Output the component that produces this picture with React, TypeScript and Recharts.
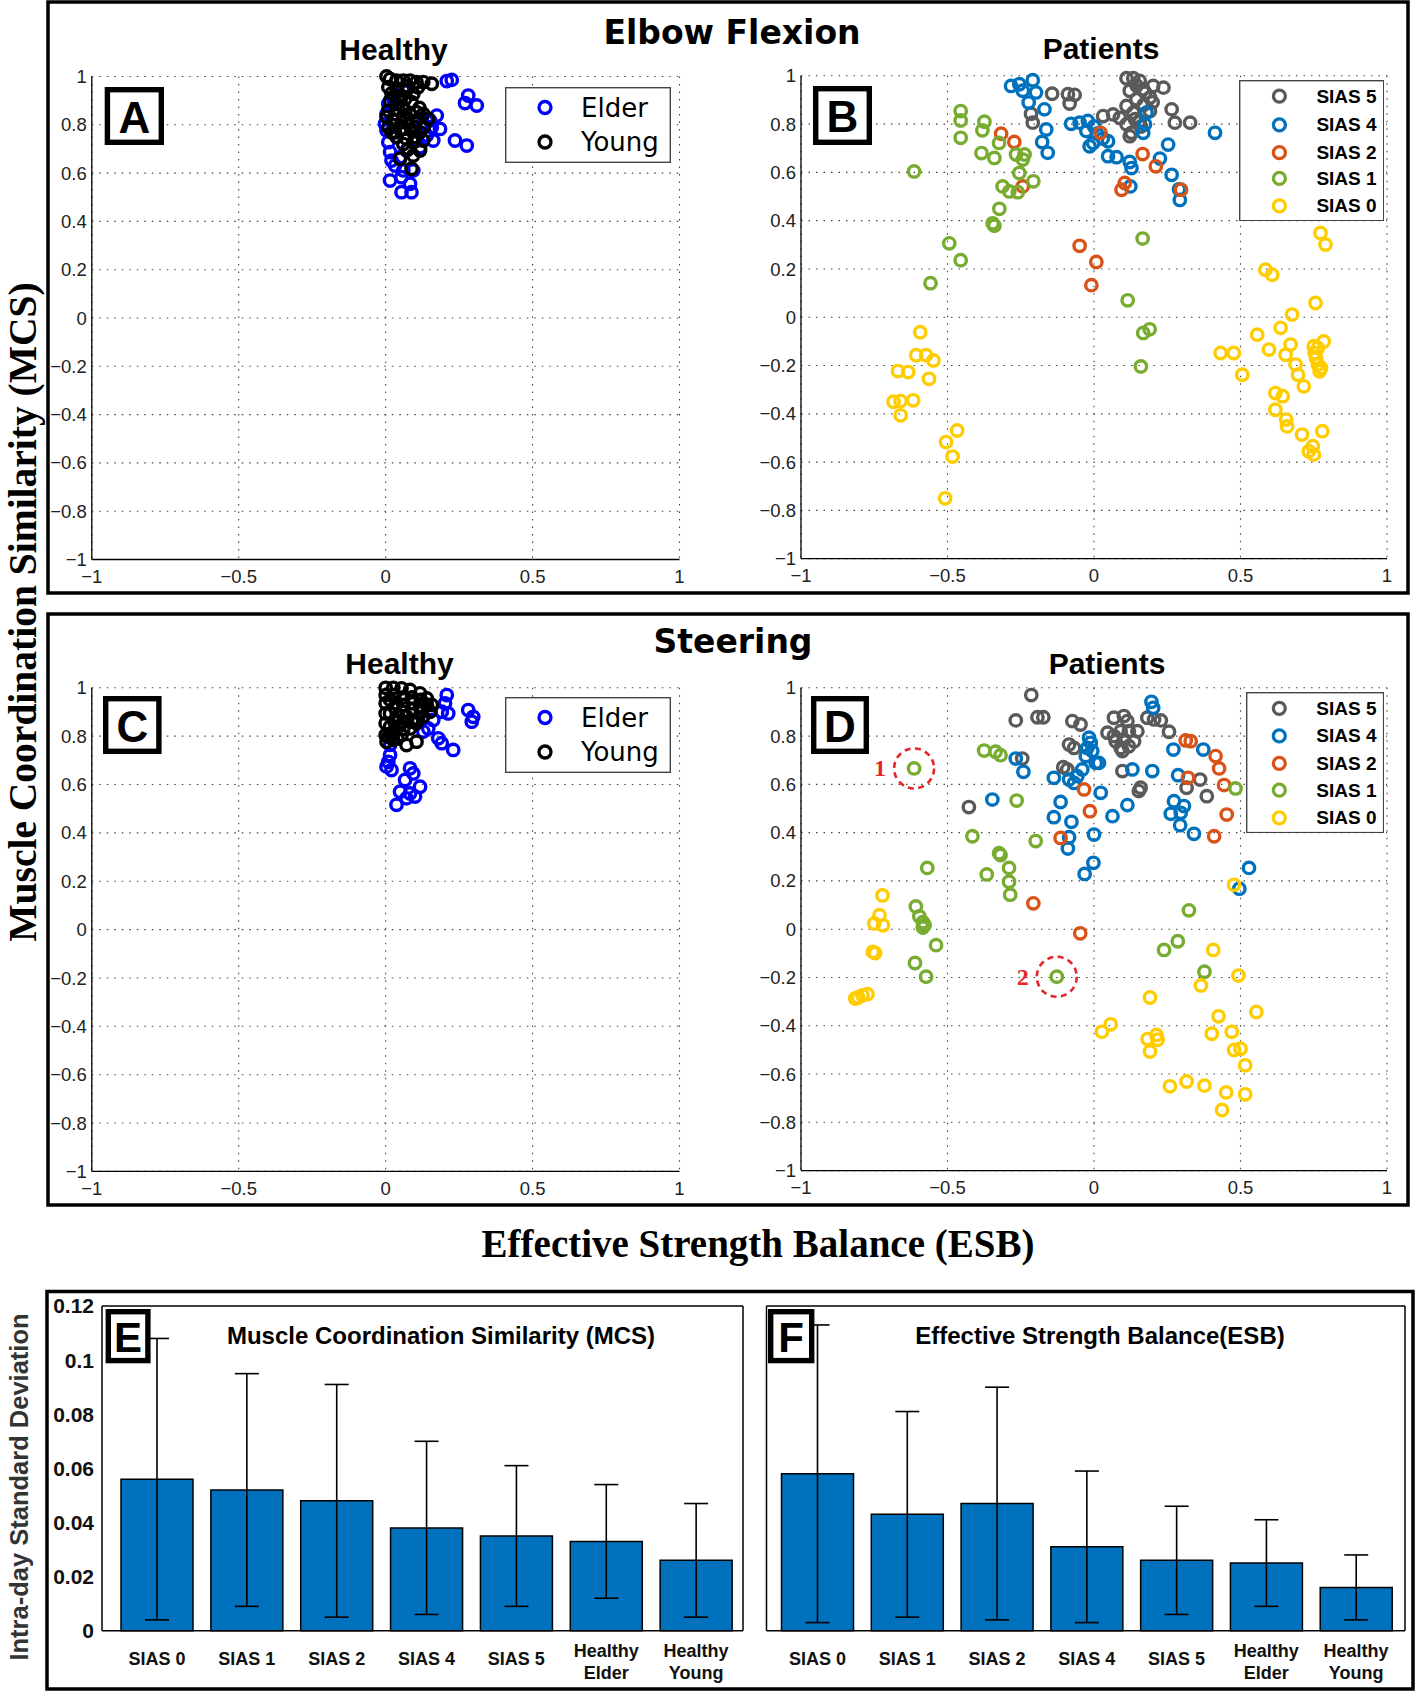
import React from "react";
import {
  ScatterChart,
  Scatter,
  XAxis,
  YAxis,
  CartesianGrid,
  Legend,
  ReferenceDot,
  BarChart,
  Bar,
  ErrorBar,
} from "recharts";

type Pt = [number, number];

const xTicks = [-1, -0.5, 0, 0.5, 1];
const yTicks = [-1, -0.8, -0.6, -0.4, -0.2, 0, 0.2, 0.4, 0.6, 0.8, 1];

// ---- Elbow flexion, healthy (panel A)
const elbowElder: Pt[] = [
  [0.208, 0.981], [0.225, 0.986], [0.281, 0.921], [0.27, 0.89], [0.31, 0.88], [0.174, 0.838],
  [0.185, 0.783], [0.157, 0.79], [0.236, 0.735], [0.276, 0.714], [0.162, 0.735], [0.015, 0.569],
  [0.054, 0.583], [0.054, 0.521], [0.088, 0.521], [0.083, 0.556], [0.009, 0.887], [0.003, 0.776],
  [0.009, 0.728], [0.015, 0.687], [0.02, 0.652], [0.032, 0.631], [0.049, 0.666], [0.06, 0.611],
  [0.071, 0.694], [0.105, 0.735], [0.117, 0.707], [0.14, 0.756], [0.128, 0.804], [0.003, 0.845],
  [-0.002, 0.804], [0.026, 0.908], [0.06, 0.942], [0.151, 0.818], [0.094, 0.611],
];
const elbowYoung: Pt[] = [
  [0.003, 1.0], [0.015, 0.99], [0.037, 0.983], [0.06, 0.983], [0.083, 0.983], [0.105, 0.977],
  [0.128, 0.977], [0.157, 0.97], [0.009, 0.956], [0.037, 0.949], [0.071, 0.942], [0.094, 0.928],
  [0.015, 0.9], [0.037, 0.887], [0.06, 0.873], [0.088, 0.894], [0.009, 0.859], [0.032, 0.845],
  [0.06, 0.838], [0.083, 0.845], [0.105, 0.852], [0.128, 0.845], [0.003, 0.832], [0.026, 0.818],
  [0.054, 0.811], [0.077, 0.804], [0.105, 0.818], [0.145, 0.825], [0.009, 0.79], [0.032, 0.769],
  [0.06, 0.783], [0.088, 0.776], [0.117, 0.769], [0.037, 0.749], [0.071, 0.742], [0.094, 0.728],
  [0.128, 0.735], [0.077, 0.7], [0.117, 0.694], [0.049, 0.659], [0.094, 0.673], [0.088, 0.618],
  [0.02, 0.769], [0.043, 0.914], [0.066, 0.907], [0.02, 0.93], [0.05, 0.92], [0.075, 0.96],
  [0.11, 0.955], [0.045, 0.86], [0.07, 0.82], [0.1, 0.79], [0.05, 0.78], [0.06, 0.72],
  [0.1, 0.75], [0.13, 0.79], [0.115, 0.87],
];

// ---- Elbow flexion, patients (panel B)
const elbowS5: Pt[] = [
  [-0.143, 0.926], [-0.089, 0.924], [-0.066, 0.921], [-0.083, 0.885], [-0.215, 0.843], [-0.209, 0.806],
  [0.031, 0.833], [0.065, 0.84], [0.111, 0.99], [0.134, 0.99], [0.156, 0.979], [0.122, 0.938],
  [0.168, 0.944], [0.202, 0.958], [0.237, 0.951], [0.145, 0.903], [0.191, 0.91], [0.111, 0.875],
  [0.134, 0.847], [0.156, 0.813], [0.128, 0.764], [0.122, 0.75], [0.265, 0.861], [0.276, 0.806],
  [0.328, 0.806], [0.191, 0.854], [0.111, 0.799], [0.088, 0.826], [0.145, 0.96], [0.175, 0.93],
  [0.2, 0.89], [0.14, 0.82], [0.16, 0.79], [0.17, 0.88],
];
const elbowS4: Pt[] = [
  [-0.283, 0.958], [-0.255, 0.965], [-0.209, 0.982], [-0.243, 0.938], [-0.198, 0.931], [-0.223, 0.889],
  [-0.169, 0.861], [-0.163, 0.778], [-0.177, 0.726], [-0.158, 0.681], [-0.078, 0.801], [-0.049, 0.806],
  [-0.021, 0.813], [-0.026, 0.771], [-0.003, 0.722], [-0.015, 0.708], [0.048, 0.729], [0.048, 0.667],
  [0.077, 0.663], [0.122, 0.643], [0.128, 0.618], [0.124, 0.542], [0.179, 0.847], [0.174, 0.799],
  [0.168, 0.764], [0.253, 0.715], [0.225, 0.657], [0.265, 0.59], [0.293, 0.486], [0.413, 0.764],
  [0.01, 0.76], [0.03, 0.74], [0.0, 0.79], [0.29, 0.53],
];
const elbowS2: Pt[] = [
  [-0.317, 0.76], [-0.272, 0.726], [-0.243, 0.542], [0.022, 0.764], [0.166, 0.676], [0.211, 0.625],
  [0.105, 0.556], [0.094, 0.528], [0.297, 0.528], [-0.049, 0.296], [0.008, 0.229], [-0.009, 0.133],
];
const elbowS1: Pt[] = [
  [-0.455, 0.854], [-0.455, 0.815], [-0.455, 0.743], [-0.614, 0.604], [-0.374, 0.81], [-0.381, 0.774],
  [-0.324, 0.722], [-0.384, 0.68], [-0.34, 0.66], [-0.266, 0.674], [-0.237, 0.674], [-0.243, 0.653],
  [-0.255, 0.597], [-0.207, 0.563], [-0.312, 0.542], [-0.289, 0.521], [-0.26, 0.518], [-0.323, 0.449],
  [-0.346, 0.389], [-0.34, 0.379], [-0.494, 0.306], [-0.455, 0.236], [0.166, 0.326], [-0.558, 0.141],
  [0.115, 0.07], [0.168, -0.065], [0.19, -0.05], [0.16, -0.204],
];
const elbowS0: Pt[] = [
  [0.773, 0.349], [0.79, 0.301], [0.585, 0.197], [0.608, 0.176], [0.756, 0.059], [0.676, 0.011],
  [0.637, -0.044], [0.557, -0.072], [0.597, -0.134], [0.671, -0.113], [0.654, -0.155], [0.688, -0.196],
  [0.696, -0.238], [0.716, -0.286], [0.432, -0.148], [0.477, -0.148], [0.506, -0.238], [0.619, -0.314],
  [0.644, -0.327], [0.619, -0.383], [0.656, -0.424], [0.659, -0.452], [0.71, -0.486], [0.779, -0.472],
  [0.747, -0.534], [0.733, -0.555], [0.75, -0.569], [0.75, -0.12], [0.764, -0.127], [0.784, -0.1],
  [0.758, -0.169], [0.764, -0.196], [0.77, -0.224], [0.753, -0.148], [0.775, -0.21],
  [-0.593, -0.062], [-0.607, -0.157], [-0.573, -0.157], [-0.548, -0.179], [-0.563, -0.255],
  [-0.669, -0.223], [-0.634, -0.227], [-0.684, -0.35], [-0.66, -0.347], [-0.617, -0.344],
  [-0.66, -0.406], [-0.467, -0.469], [-0.505, -0.517], [-0.483, -0.577], [-0.508, -0.75],
];

// ---- Steering, healthy (panel C)
const steerElder: Pt[] = [
  [0.208, 0.97], [0.202, 0.936], [0.191, 0.901], [0.213, 0.894], [0.281, 0.908], [0.298, 0.88],
  [0.293, 0.86], [0.162, 0.867], [0.145, 0.832], [0.128, 0.819], [0.179, 0.791], [0.191, 0.771],
  [0.23, 0.743], [0.015, 0.764], [0.015, 0.722], [0.009, 0.694], [0.02, 0.66], [0.003, 0.674],
  [0.083, 0.667], [0.094, 0.646], [0.066, 0.619], [0.117, 0.591], [0.049, 0.57], [0.083, 0.563],
  [0.1, 0.55], [0.037, 0.516], [0.071, 0.543],
];
const steerYoung: Pt[] = [
  [0.0, 1.0], [0.026, 1.0], [0.054, 0.998], [0.083, 0.991], [0.117, 0.977], [0.14, 0.956],
  [0.157, 0.929], [0.151, 0.901], [0.128, 0.881], [0.105, 0.853], [0.083, 0.832], [0.054, 0.805],
  [0.026, 0.784], [0.003, 0.777], [0.0, 0.805], [0.0, 0.853], [0.0, 0.894], [0.0, 0.936],
  [0.0, 0.97], [0.015, 0.95], [0.037, 0.936], [0.06, 0.929], [0.094, 0.936], [0.117, 0.922],
  [0.015, 0.894], [0.043, 0.881], [0.071, 0.881], [0.015, 0.839], [0.043, 0.839], [0.009, 0.798],
  [0.071, 0.763], [0.105, 0.777], [0.03, 0.97], [0.06, 0.96], [0.09, 0.96], [0.12, 0.95],
  [0.03, 0.92], [0.06, 0.9], [0.09, 0.91], [0.12, 0.9], [0.14, 0.93], [0.03, 0.86],
  [0.06, 0.86], [0.09, 0.86], [0.03, 0.82], [0.06, 0.83], [0.11, 0.87], [0.02, 0.8], [0.04, 0.79],
];

// ---- Steering, patients (panel D)
const steerS5: Pt[] = [
  [-0.214, 0.97], [-0.267, 0.865], [-0.193, 0.878], [-0.173, 0.878], [-0.074, 0.862], [-0.046, 0.848],
  [-0.085, 0.765], [-0.068, 0.751], [-0.105, 0.671], [-0.091, 0.662], [-0.427, 0.506], [-0.245, 0.707],
  [0.068, 0.876], [0.102, 0.883], [0.114, 0.862], [0.046, 0.814], [0.068, 0.8], [0.091, 0.82],
  [0.119, 0.82], [0.148, 0.82], [0.074, 0.779], [0.102, 0.786], [0.137, 0.779], [0.091, 0.751],
  [0.119, 0.758], [0.097, 0.738], [0.182, 0.876], [0.205, 0.869], [0.228, 0.865], [0.256, 0.818],
  [0.097, 0.655], [0.159, 0.586], [0.153, 0.572], [0.316, 0.586], [0.362, 0.62], [0.385, 0.551],
];
const steerS4: Pt[] = [
  [0.196, 0.942], [0.202, 0.917], [-0.017, 0.793], [-0.011, 0.772], [-0.023, 0.751], [-0.006, 0.738],
  [-0.028, 0.717], [0.006, 0.689], [0.017, 0.689], [-0.04, 0.662], [-0.057, 0.634], [-0.085, 0.62],
  [-0.068, 0.606], [-0.137, 0.627], [-0.267, 0.707], [-0.241, 0.652], [-0.347, 0.537], [-0.114, 0.527],
  [-0.137, 0.464], [-0.077, 0.445], [-0.085, 0.381], [-0.089, 0.334], [0.0, 0.392], [0.023, 0.565],
  [0.063, 0.468], [0.114, 0.514], [0.131, 0.662], [0.199, 0.655], [-0.002, 0.275], [-0.032, 0.229],
  [0.271, 0.744], [0.373, 0.744], [0.287, 0.638], [0.273, 0.53], [0.307, 0.51], [0.262, 0.478],
  [0.296, 0.482], [0.294, 0.431], [0.341, 0.395], [0.529, 0.254], [0.496, 0.168],
];
const steerS2: Pt[] = [
  [0.313, 0.782], [0.33, 0.779], [0.415, 0.717], [0.427, 0.666], [0.444, 0.597], [0.453, 0.475],
  [0.41, 0.385], [0.321, 0.627], [-0.034, 0.579], [-0.014, 0.489], [-0.114, 0.378], [-0.207, 0.107],
  [-0.047, -0.017],
];
const steerS1: Pt[] = [
  [-0.375, 0.74], [-0.336, 0.735], [-0.319, 0.721], [-0.614, 0.666], [-0.264, 0.533], [-0.415, 0.385],
  [-0.199, 0.365], [-0.319, 0.307], [-0.29, 0.254], [-0.569, 0.254], [-0.366, 0.227], [0.483, 0.583],
  [-0.29, 0.197], [-0.286, 0.143], [-0.324, 0.315], [-0.608, 0.094], [-0.596, 0.053], [-0.584, 0.029],
  [-0.578, 0.017], [-0.584, 0.007], [-0.539, -0.066], [-0.611, -0.14], [-0.573, -0.197], [-0.127, -0.197],
  [0.324, 0.078], [0.286, -0.05], [0.239, -0.086], [0.377, -0.176],
];
const steerS0: Pt[] = [
  [-0.722, 0.14], [-0.732, 0.058], [-0.75, 0.024], [-0.72, 0.016], [-0.755, -0.094], [-0.747, -0.099],
  [-0.805, -0.283], [-0.79, -0.274], [-0.773, -0.269], [-0.815, -0.287], [0.478, 0.184], [0.407, -0.086],
  [0.493, -0.192], [0.365, -0.233], [0.191, -0.283], [0.425, -0.361], [0.554, -0.343], [0.027, -0.425],
  [0.057, -0.394], [0.183, -0.455], [0.213, -0.438], [0.217, -0.458], [0.191, -0.507], [0.402, -0.433],
  [0.47, -0.425], [0.478, -0.5], [0.5, -0.495], [0.516, -0.564], [0.259, -0.651], [0.316, -0.631],
  [0.377, -0.648], [0.451, -0.676], [0.516, -0.684], [0.437, -0.749],
];
// circled trials in D
const steerNotes: Pt[] = [[-0.614, 0.666], [-0.127, -0.197]];

// ---- Intra-day SD bars (E, F)
const groups = ["SIAS 0", "SIAS 1", "SIAS 2", "SIAS 4", "SIAS 5", "Healthy Elder", "Healthy Young"];
const mcsMean = [0.056, 0.052, 0.048, 0.038, 0.035, 0.033, 0.026];
const mcsErr = [0.052, 0.043, 0.043, 0.032, 0.026, 0.021, 0.021];
const esbMean = [0.058, 0.043, 0.047, 0.031, 0.026, 0.025, 0.016];
const esbErr = [0.055, 0.038, 0.043, 0.028, 0.02, 0.016, 0.012];
const sdTicks = [0, 0.02, 0.04, 0.06, 0.08, 0.1, 0.12];

const col = {
  s5: "#5a5a5a",
  s4: "#0072BD",
  s2: "#D95319",
  s1: "#77AC30",
  s0: "#FFCC00",
  elder: "#0000FF",
  young: "#000000",
  bar: "#0072BD",
};

type Series = { name: string; color: string; pts: Pt[] };
type Box = { left: number; top: number; width: number; height: number };
type Plot = { x0: number; y0: number; x1: number; y1: number };
type Lg = { left: number; top: number; width: number; height: number; rows: number[]; mx: number; tx: number; font: string; size: number; weight: string };

const fmt = (v: number) => String(v).replace("-", "\u2212");

// axes need a non-zero size to be drawn, so 1px is taken out of the margin
const margins = (b: Box, p: Plot, yw: number, xh: number) => ({
  left: p.x0 - b.left - yw,
  top: p.y0 - b.top,
  right: b.left + b.width - p.x1,
  bottom: b.top + b.height - p.y1 - xh,
});

const ring = (color: string) => (p: any) => (
  <circle cx={p.cx} cy={p.cy} r={5.7} fill="none" stroke={color} strokeWidth={3.4} />
);

function legendFor(series: Series[], lg: Lg, box: Box) {
  return (
    <Legend
      layout="vertical"
      align="center"
      verticalAlign="middle"
      wrapperStyle={{ left: lg.left - box.left, top: lg.top - box.top, width: lg.width, height: lg.height }}
      content={() => (
        <svg width={lg.width} height={lg.height} style={{ display: "block" }}>
          <rect x={0.7} y={0.7} width={lg.width - 1.4} height={lg.height - 1.4} fill="#fff" stroke="#444" strokeWidth={1.4} />
          {series.map((s, i) => (
            <g key={s.name}>
              <circle cx={lg.mx - lg.left} cy={lg.rows[i] - lg.top} r={6} fill="none" stroke={s.color} strokeWidth={3.3} />
              <text
                x={lg.tx - lg.left}
                y={lg.rows[i] - lg.top}
                dominantBaseline="central"
                fontFamily={lg.font}
                fontSize={lg.size}
                fontWeight={lg.weight}
                fill="#000"
              >
                {s.name}
              </text>
            </g>
          ))}
        </svg>
      )}
    />
  );
}

function ScatterPanel({ box, plot, series, lg, notes }: { box: Box; plot: Plot; series: Series[]; lg: Lg; notes?: Pt[] }) {
  const axisTick = { fill: "#222", fontSize: 18.5, fontFamily: "Liberation Sans" };
  return (
    <div style={{ position: "absolute", left: box.left, top: box.top }}>
      <ScatterChart width={box.width} height={box.height} margin={margins(box, plot, 1, 1)}>
        <CartesianGrid stroke="#444" strokeWidth={1.1} strokeDasharray="1.5 6" />
        <XAxis
          type="number"
          dataKey="x"
          domain={[-1, 1]}
          ticks={xTicks}
          interval={0}
          height={1}
          tickLine={false}
          tickSize={0}
          tickMargin={10}
          tick={axisTick}
          tickFormatter={fmt}
          axisLine={{ stroke: "#000", strokeWidth: 1.3 }}
        />
        <YAxis
          type="number"
          dataKey="y"
          domain={[-1, 1]}
          ticks={yTicks}
          interval={0}
          width={1}
          tickLine={false}
          tickSize={0}
          tickMargin={5}
          tick={axisTick}
          tickFormatter={fmt}
          axisLine={{ stroke: "#000", strokeWidth: 1.3 }}
        />
        {series.map((s) => (
          <Scatter
            key={s.name}
            name={s.name}
            data={s.pts.map(([x, y]) => ({ x, y }))}
            fill={s.color}
            shape={ring(s.color)}
            isAnimationActive={false}
          />
        ))}
        {(notes || []).map(([x, y], i) => (
          <ReferenceDot
            key={i}
            x={x}
            y={y}
            r={20}
            ifOverflow="visible"
            shape={(p: any) => (
              <g>
                <circle cx={p.cx} cy={p.cy} r={20} fill="none" stroke="#e3262b" strokeWidth={2.6} strokeDasharray="6 4.5" />
                <text x={p.cx - 34} y={p.cy + 8} textAnchor="middle" fontFamily="Liberation Serif" fontWeight="bold" fontSize={24} fill="#e3262b">
                  {i + 1}
                </text>
              </g>
            )}
          />
        ))}
        {legendFor(series, lg, box)}
      </ScatterChart>
    </div>
  );
}

const CatTick = (p: any) => {
  const v = String(p.payload.value);
  const lines = v.startsWith("Healthy") ? v.split(" ") : [v];
  const dys = lines.length === 1 ? [34] : [26, 48];
  return (
    <text textAnchor="middle" fontFamily="Liberation Sans" fontSize={18} fontWeight="bold" fill="#111">
      {lines.map((l, i) => (
        <tspan key={i} x={p.x} y={p.y + dys[i]}>
          {l}
        </tspan>
      ))}
    </text>
  );
};

function BarPanel({ box, plot, mean, err, showY, pad }: { box: Box; plot: Plot; mean: number[]; err: number[]; showY: boolean; pad: { left: number; right: number } }) {
  const data = groups.map((name, i) => ({ name, v: mean[i], e: err[i] }));
  const frame = { stroke: "#000", strokeWidth: 1.5 };
  return (
    <div style={{ position: "absolute", left: box.left, top: box.top }}>
      <BarChart width={box.width} height={box.height} margin={margins(box, plot, showY ? 1 : 0, 1)} data={data} barSize={72}>
        <XAxis
          xAxisId="b"
          dataKey="name"
          padding={pad}
          height={1}
          interval={0}
          tickLine={false}
          tickSize={0}
          tickMargin={0}
          tick={(p: any) => <CatTick {...p} />}
          axisLine={frame}
        />
        <XAxis
          xAxisId="t"
          dataKey="name"
          orientation="top"
          mirror
          padding={pad}
          height={1}
          interval={0}
          tick={false}
          tickSize={8}
          tickLine={frame}
          axisLine={frame}
        />
        <YAxis
          yAxisId="l"
          type="number"
          domain={[0, 0.12]}
          ticks={sdTicks}
          interval={0}
          width={1}
          mirror={!showY}
          tick={showY ? { fill: "#111", fontSize: 21, fontWeight: "bold", fontFamily: "Liberation Sans" } : false}
          tickFormatter={fmt}
          tickLine={showY ? false : frame}
          tickSize={showY ? 0 : 8}
          tickMargin={8}
          axisLine={frame}
        />
        <YAxis
          yAxisId="r"
          orientation="right"
          type="number"
          domain={[0, 0.12]}
          ticks={sdTicks}
          interval={0}
          width={1}
          mirror
          tick={false}
          tickSize={8}
          tickLine={frame}
          axisLine={frame}
        />
        <Bar xAxisId="b" yAxisId="l" dataKey="v" fill={col.bar} stroke="#000" strokeWidth={1.5} isAnimationActive={false}>
          <ErrorBar dataKey="e" width={12} stroke="#000" strokeWidth={1.6} direction="y" />
        </Bar>
      </BarChart>
    </div>
  );
}

const patientSeries = (s5: Pt[], s4: Pt[], s2: Pt[], s1: Pt[], s0: Pt[]): Series[] => [
  { name: "SIAS 5", color: col.s5, pts: s5 },
  { name: "SIAS 4", color: col.s4, pts: s4 },
  { name: "SIAS 2", color: col.s2, pts: s2 },
  { name: "SIAS 1", color: col.s1, pts: s1 },
  { name: "SIAS 0", color: col.s0, pts: s0 },
];

const healthyLg = (top: number): Lg => ({
  left: 505, top, width: 166, height: 76, rows: [top + 20.5, top + 55], mx: 545, tx: 581,
  font: "DejaVu Sans", size: 26, weight: "normal",
});
const patientLg = (left: number, top: number, h: number, rows: number[]): Lg => ({
  left, top, width: 1384 - left, height: h, rows, mx: 1279, tx: 1316,
  font: "Liberation Sans", size: 19, weight: "bold",
});

function LabelBox({ x, y, w, h, t }: { x: number; y: number; w: number; h: number; t: string }) {
  return (
    <g>
      <rect x={x + 2.7} y={y + 2.7} width={w - 5.4} height={h - 5.4} fill="#fff" stroke="#000" strokeWidth={5.4} />
      <text x={x + w / 2} y={y + h / 2 + 1} textAnchor="middle" dominantBaseline="central" fontFamily="Liberation Sans" fontWeight="bold" fontSize={h > 55 ? 44 : 42} fill="#000">
        {t}
      </text>
    </g>
  );
}

export default function App() {
  const boxA: Box = { left: 40, top: 60, width: 680, height: 545 };
  const boxB: Box = { left: 730, top: 60, width: 680, height: 545 };
  const boxC: Box = { left: 40, top: 670, width: 680, height: 545 };
  const boxD: Box = { left: 730, top: 670, width: 680, height: 545 };
  const boxE: Box = { left: 40, top: 1295, width: 720, height: 394 };
  const boxF: Box = { left: 750, top: 1295, width: 662, height: 394 };

  const bold = { fontFamily: "Liberation Sans", fontWeight: "bold" } as const;
  const serif = { fontFamily: "Liberation Serif", fontWeight: "bold" } as const;

  return (
    <div style={{ position: "absolute", left: 0, top: 0, width: 1415, height: 1692, background: "#fff", fontFamily: "Liberation Sans" }}>
      <ScatterPanel
        box={boxA}
        plot={{ x0: 91.8, y0: 76.5, x1: 679.5, y1: 559.5 }}
        series={[
          { name: "Elder", color: col.elder, pts: elbowElder },
          { name: "Young", color: col.young, pts: elbowYoung },
        ]}
        lg={healthyLg(86.5)}
      />
      <ScatterPanel
        box={boxB}
        plot={{ x0: 801, y0: 75.8, x1: 1387, y1: 558.7 }}
        series={patientSeries(elbowS5, elbowS4, elbowS2, elbowS1, elbowS0)}
        lg={patientLg(1238.6, 79.6, 141.4, [95.7, 124.4, 152.3, 178, 205.5])}
      />
      <ScatterPanel
        box={boxC}
        plot={{ x0: 91.8, y0: 687.8, x1: 679.5, y1: 1171.4 }}
        series={[
          { name: "Elder", color: col.elder, pts: steerElder },
          { name: "Young", color: col.young, pts: steerYoung },
        ]}
        lg={healthyLg(697)}
      />
      <ScatterPanel
        box={boxD}
        plot={{ x0: 801, y0: 687.8, x1: 1387, y1: 1170.6 }}
        series={patientSeries(steerS5, steerS4, steerS2, steerS1, steerS0)}
        lg={patientLg(1245.7, 691.7, 141.3, [708, 735.6, 763, 789.8, 817.5])}
        notes={steerNotes}
      />
      <BarPanel box={boxE} plot={{ x0: 102, y0: 1306, x1: 743, y1: 1630.7 }} mean={mcsMean} err={mcsErr} showY pad={{ left: 10, right: 2 }} />
      <BarPanel box={boxF} plot={{ x0: 766.5, y0: 1306, x1: 1405, y1: 1630.7 }} mean={esbMean} err={esbErr} showY={false} pad={{ left: 6, right: 4 }} />

      <svg width={1415} height={1692} style={{ position: "absolute", left: 0, top: 0, pointerEvents: "none" }}>
        {/* frames */}
        <rect x={48} y={2} width={1360} height={591} fill="none" stroke="#000" strokeWidth={3.5} />
        <rect x={48} y={614} width={1360} height={591} fill="none" stroke="#000" strokeWidth={3.5} />
        <rect x={47} y={1291.5} width={1366} height={397.5} fill="none" stroke="#000" strokeWidth={3.5} />

        {/* section titles */}
        <text x={732} y={44} textAnchor="middle" fontFamily="DejaVu Sans" fontWeight="bold" fontSize={33}>Elbow Flexion</text>
        <text x={733} y={653} textAnchor="middle" fontFamily="DejaVu Sans" fontWeight="bold" fontSize={33}>Steering</text>
        <text x={393.5} y={60} textAnchor="middle" {...bold} fontSize={30}>Healthy</text>
        <text x={1101} y={59.3} textAnchor="middle" {...bold} fontSize={30}>Patients</text>
        <text x={399.5} y={674} textAnchor="middle" {...bold} fontSize={30}>Healthy</text>
        <text x={1107} y={673.5} textAnchor="middle" {...bold} fontSize={30}>Patients</text>

        {/* panel letters */}
        <LabelBox x={104.7} y={87} w={59.3} h={58} t="A" />
        <LabelBox x={813} y={86} w={59} h={59} t="B" />
        <LabelBox x={103} y={696} w={58.6} h={58} t="C" />
        <LabelBox x={811} y={696} w={58} h={58} t="D" />
        <LabelBox x={105.6} y={1309} w={45} h={54.3} t="E" />
        <LabelBox x={768} y={1309} w={46.4} h={54.3} t="F" />

        {/* shared axis titles */}
        <text transform="translate(35.5,612) rotate(-90)" textAnchor="middle" {...serif} fontSize={39.5}>
          Muscle Coordination Similarity (MCS)
        </text>
        <text x={758} y={1257} textAnchor="middle" {...serif} fontSize={39}>
          Effective Strength Balance (ESB)
        </text>

        {/* bar panel titles */}
        <text transform="translate(28,1487) rotate(-90)" textAnchor="middle" {...bold} fontSize={25.5} fill="#333">
          Intra-day Standard Deviation
        </text>
        <text x={441} y={1344} textAnchor="middle" {...bold} fontSize={24}>Muscle Coordination Similarity (MCS)</text>
        <text x={1100} y={1344} textAnchor="middle" {...bold} fontSize={24}>Effective Strength Balance(ESB)</text>
      </svg>
    </div>
  );
}
